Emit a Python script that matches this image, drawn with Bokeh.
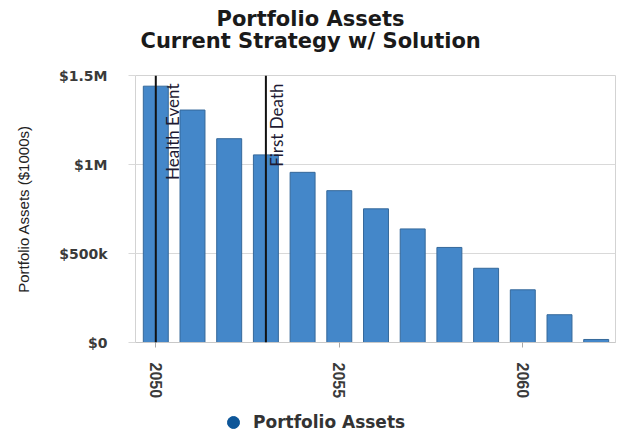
import math
from bokeh.plotting import figure
from bokeh.layouts import column
from bokeh.models import (ColumnDataSource, Span, Label, Title, Legend, LegendItem,
                          FixedTicker, Range1d)
from bokeh.embed import file_html
from bokeh.resources import INLINE

# ---- data ----
years = [2050, 2051, 2052, 2053, 2054, 2055, 2056, 2057, 2058, 2059, 2060, 2061, 2062]
assets = [1440000, 1306000, 1145000, 1054000, 956000, 853000, 751000, 638000,
          534000, 417000, 296000, 156000, 17000]
y_ticks = [0, 500000, 1000000, 1500000]
y_tick_labels = ["$0", "$500k", "$1M", "$1.5M"]
x_ticks = [2050, 2055, 2060]
event_names = ["Health Event", "First Death"]
event_years = [2050, 2053]
title_lines = ["Portfolio Assets", "Current Strategy w/ Solution"]
y_axis_title = "Portfolio Assets ($1000s)"
series_name = "Portfolio Assets"

BAR = "#4487c9"
BAR_LINE = "#35689a"
GRID = "#d9d9d9"
LEGEND_DOT = "#0d5699"

p = figure(width=621, height=404, output_backend="svg", toolbar_location=None,
           x_range=Range1d(2049.447, 2062.526), y_range=Range1d(0, 1500000),
           min_border_left=135, min_border_right=6, min_border_top=75,
           min_border_bottom=62)
p.background_fill_color = "white"
p.border_fill_color = "white"
p.outline_line_color = "#d3d3d3"

src = ColumnDataSource(data=dict(year=years, assets=assets))
p.vbar(x="year", top="assets", bottom=0, width=0.68, source=src,
       fill_color=BAR, line_color=BAR_LINE, line_width=1)

# y axis
p.yaxis.ticker = FixedTicker(ticks=y_ticks)
p.yaxis.major_label_overrides = {t: l for t, l in zip(y_ticks, y_tick_labels)}
p.yaxis.axis_line_color = None
p.yaxis.major_tick_out = 7
p.yaxis.major_tick_in = 0
p.yaxis.major_tick_line_color = GRID
p.yaxis.minor_tick_line_color = None
p.yaxis.major_label_standoff = 21
p.yaxis.major_label_text_font = "DejaVu Sans"
p.yaxis.major_label_text_font_size = "14px"
p.yaxis.major_label_text_font_style = "bold"
p.yaxis.major_label_text_color = "#3a3a3a"
p.yaxis.axis_label = y_axis_title
p.yaxis.axis_label_text_font = "Liberation Sans"
p.yaxis.axis_label_text_font_size = "15px"
p.yaxis.axis_label_text_font_style = "normal"
p.yaxis.axis_label_text_color = "#222222"
p.yaxis.axis_label_standoff = 24
p.ygrid.ticker = FixedTicker(ticks=y_ticks)
p.ygrid.grid_line_color = GRID

# x axis
p.xaxis.ticker = FixedTicker(ticks=x_ticks)
p.xaxis.major_label_orientation = "vertical"
p.xaxis.axis_line_color = "#c8c8c8"
p.xaxis.major_tick_out = 5
p.xaxis.major_tick_in = 0
p.xaxis.major_tick_line_color = "#a8a8a8"
p.xaxis.minor_tick_line_color = None
p.xaxis.major_label_standoff = 15
p.xaxis.major_label_text_font = "Liberation Sans"
p.xaxis.major_label_text_font_size = "16px"
p.xaxis.major_label_text_font_style = "bold"
p.xaxis.major_label_text_color = "#3a3a3a"
p.xgrid.visible = False

# event lines and labels
label_offsets = {"Health Event": 6, "First Death": 0}
for name, yr in zip(event_names, event_years):
    p.add_layout(Span(location=yr, dimension="height", line_color="#111111", line_width=2))
    p.add_layout(Label(x=yr, y=1500000, text=name, angle=math.pi / 2,
                       text_align="right", text_baseline="top",
                       x_offset=label_offsets[name], y_offset=-8,
                       text_font="Lato", text_font_size="17px",
                       text_color="#1e1a33"))

# titles (first added is closest to frame)
p.add_layout(Title(text=title_lines[1], align="left", offset=5, standoff=46,
                   text_font="DejaVu Sans", text_font_size="21px",
                   text_font_style="bold", text_color="#1a1a1a"), "above")
p.add_layout(Title(text=title_lines[0], align="left", offset=81, standoff=-54,
                   text_font="DejaVu Sans", text_font_size="21px",
                   text_font_style="bold", text_color="#1a1a1a"), "above")

# legend strip below the chart
lf = figure(width=621, height=30, output_backend="svg", toolbar_location=None,
            x_range=Range1d(0, 1), y_range=Range1d(0, 1),
            x_axis_type=None, y_axis_type=None,
            min_border_left=0, min_border_right=0, min_border_top=0,
            min_border_bottom=0)
lf.outline_line_color = None
lf.xgrid.visible = False
lf.ygrid.visible = False
lf.background_fill_color = "white"
lf.border_fill_color = "white"
leg_r = lf.scatter(x=[0.5], y=[0.5], marker="circle", size=12,
                   fill_color=LEGEND_DOT, line_color=LEGEND_DOT)
leg_r.visible = False
legend = Legend(items=[LegendItem(label=series_name, renderers=[leg_r])],
                location=(83, -3), orientation="horizontal",
                glyph_width=30, glyph_height=30, padding=0, margin=0,
                label_standoff=5, border_line_color=None,
                background_fill_alpha=0, inactive_fill_alpha=0,
                label_text_font="DejaVu Sans", label_text_font_size="17px",
                label_text_font_style="bold", label_text_color="#333333")
lf.add_layout(legend, "center")

layout = column(p, lf, spacing=0)
open("out.html", "w").write(file_html(layout, INLINE))
